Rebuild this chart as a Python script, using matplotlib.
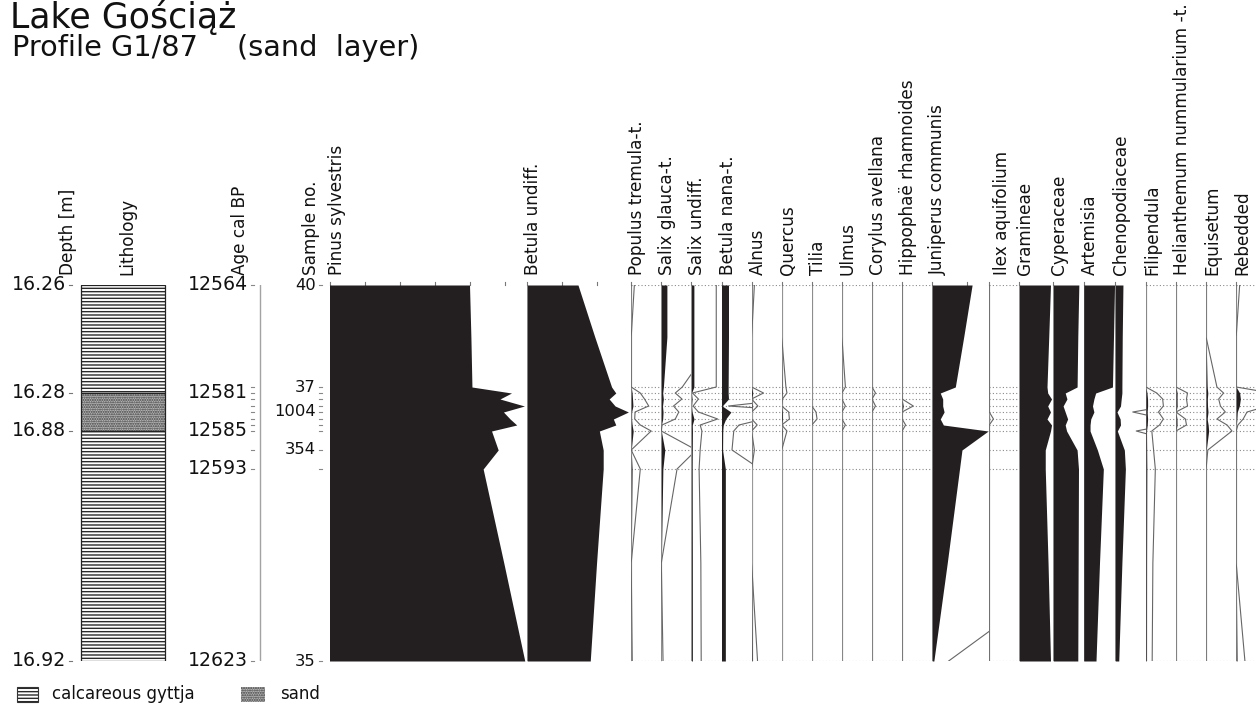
import numpy as np
import matplotlib
matplotlib.use("Agg")
import matplotlib.pyplot as plt
from matplotlib.patches import Rectangle

plt.rcParams['font.family'] = ['DejaVu Sans']
plt.rcParams['hatch.linewidth'] = 1.0

# ---------------------------------------------------------------- data
# stratigraphic position of each level (mm below the top of the section)
section_pos = [0, 52, 102, 108, 114, 121, 127, 134, 140, 146, 165, 184, 278, 376]
# levels that are counted samples (the others are curve vertices only)
counted = [True, False, True, True, True, True, True, True, True, True, True, True, False, True]

depth_labels = ['16.26', '16.28', '16.88', '16.92']
depth_at = [0, 3, 9, 13]
age_labels = ['12564', '12581', '12585', '12593', '12623']
age_at = [0, 3, 9, 11, 13]
sample_labels = ['40', '37', '1004', '354', '35']
sample_at = [0, 2, 6, 10, 13]

lith_types = ['calcareous gyttja', 'sand', 'calcareous gyttja']
lith_bounds = [0, 3, 9, 13]   # level indices bounding each unit

taxa = ['Pinus sylvestris', 'Betula undiff.', 'Populus tremula-t.', 'Salix glauca-t.',
        'Salix undiff.', 'Betula nana-t.', 'Alnus', 'Quercus', 'Tilia', 'Ulmus',
        'Corylus avellana', 'Hippophaë rhamnoides', 'Juniperus communis',
        'Ilex aquifolium', 'Gramineae', 'Cyperaceae', 'Artemisia', 'Chenopodiaceae',
        'Filipendula', 'Helianthemum nummularium -t.', 'Equisetum', 'Rebedded']

pinus = [40.0, 40.4, 40.7, 52.0, 48.7, 55.7, 49.7, 51.6, 53.5, 46.3, 48.2, 43.9, 49.8, 55.8]
betula = [14.5, 19.3, 24.1, 25.3, 23.4, 25.1, 28.9, 24.6, 25.3, 20.6, 21.7, 21.7, 19.8, 18.0]
populus = [0.09, 0.0, 0.0, 0.26, 0.38, 0.50, 0.11, 0.10, 0.26, 0.57, 0.0, 0.26, 0.0, 0.03]
salix_glauca = [1.6, 1.6, 0.6, 0.40, 0.59, 0.35, 0.50, 0.40, 0.02, 0.0, 1.0, 0.45, 0.0, 0.05]
salix_undiff = [0.71, 0.71, 0.71, 0.03, 0.20, 0.05, 0.20, 0.75, 0.25, 0.30, 0.25, 0.22, 0.27, 0.28]
betula_nana = [2.0, 2.0, 1.9, 1.9, 2.0, 0.2, 2.7, 1.2, 0.5, 0.35, 0.3, 1.1, 1.1, 1.1]
alnus = [0.08, 0.0, 0.0, 0.34, 0.0, 0.18, 0.0, 0.0, 0.16, 0.0, 0.08, 0.0, 0.0, 0.17]
quercus = [0.0, 0.0, 0.12, 0.15, 0.02, 0.0, 0.20, 0.22, 0.0, 0.15, 0.0, 0.0, 0.0, 0.0]
tilia = [0, 0, 0, 0, 0, 0, 0.12, 0.15, 0, 0, 0, 0, 0, 0]
ulmus = [0, 0, 0.10, 0, 0, 0.10, 0, 0, 0.10, 0, 0, 0, 0, 0]
corylus = [0, 0, 0, 0.10, 0, 0.10, 0, 0, 0, 0, 0, 0, 0, 0]
hippophae = [0, 0, 0, 0, 0, 0.32, 0, 0, 0.10, 0, 0, 0, 0, 0]
juniperus = [11.4, 9.0, 6.6, 2.3, 3.0, 3.0, 3.4, 2.3, 3.2, 16.0, 8.5, 7.8, 4.3, 0.47]
ilex = [0, 0, 0, 0, 0, 0, 0, 0.12, 0, 0, 0, 0, 0, 0]
gramineae = [8.9, 8.4, 7.9, 8.1, 9.2, 8.1, 8.9, 7.9, 9.2, 8.9, 7.4, 7.4, 8.2, 8.9]
cyperaceae = [7.3, 7.0, 6.8, 3.4, 3.9, 2.8, 3.4, 4.1, 3.4, 3.8, 6.8, 7.2, 7.1, 7.0]
artemisia = [8.8, 8.5, 8.2, 3.4, 2.9, 2.5, 2.9, 2.0, 1.8, 1.8, 3.9, 5.6, 4.5, 3.5]
chenopodiaceae = [2.2, 2.0, 1.9, 1.9, 1.7, 1.5, 0.5, 1.4, 1.5, 0.6, 2.6, 2.9, 1.9, 1.0]
filipendula = [0, 0, 0, 0.31, 0.48, 0.50, 0.36, 0.50, 0.39, 0.17, 0.22, 0.27, 0.20, 0.18]
helianthemum = [0, 0, 0, 0.33, 0.30, 0.33, 0, 0.27, 0.30, 0, 0, 0, 0, 0]
equisetum = [0, 0, 0.31, 0.50, 0.36, 0.41, 0.55, 0.31, 0.60, 0.74, 0.05, 0, 0, 0]
rebedded = [0.10, 0, 0, 1.0, 1.2, 0.9, 0.31, 0.20, 0.05, 0, 0, 0, 0, 0.25]

series = [pinus, betula, populus, salix_glauca, salix_undiff, betula_nana, alnus,
          quercus, tilia, ulmus, corylus, hippophae, juniperus, ilex, gramineae,
          cyperaceae, artemisia, chenopodiaceae, filipendula, helianthemum,
          equisetum, rebedded]

# ---------------------------------------------------------------- layout
W, H = 1256, 706
TOP, BOTTOM = 285, 661
X0 = 329.5            # left edge of the first pollen panel (px)
PX_PER_PCT = 3.5      # horizontal scale shared by all panels
EXAG = 10             # exaggeration of the outline curves
# panel widths in percent units
widths = [56.5, 29.7] + [8.6] * 10 + [16.3, 8.6, 9.7, 8.7, 9.0, 8.75, 8.6, 8.6, 8.6, 8.6]
# taxa drawn with dotted sample lines (rare taxa)
dotted_taxa = set(taxa[2:12] + ['Ilex aquifolium', 'Filipendula',
                                'Helianthemum nummularium -t.', 'Equisetum', 'Rebedded'])
label_nudge = {'Ilex aquifolium': 7, 'Pinus sylvestris': 2}

BLACK = '#231f20'
CURVE = '#666666'
AXLINE = '#a3a3a3'
DOT = '#8a8a8a'
TXT = '#111111'

fig = plt.figure(figsize=(W / 100, H / 100), dpi=100)
fig.patch.set_facecolor('white')


def fx(x):
    return x / W


def fy(y):
    return 1 - y / H


pos = np.array(section_pos, dtype=float)
ymax = pos[-1]
marked = pos[np.array(counted)]

HDR_FS = 12.2

# ---------------------------------------------------------------- pollen panels
left = X0
for name, vals, wpct in zip(taxa, series, widths):
    wpx = wpct * PX_PER_PCT
    ax = fig.add_axes([fx(left), fy(BOTTOM), fx(wpx), (BOTTOM - TOP) / H])
    ax.set_xlim(0, wpct)
    ax.set_ylim(ymax, 0)
    ax.axis('off')
    v = np.array(vals, dtype=float)
    if name in dotted_taxa:
        for p in marked:
            ax.axhline(p, color=DOT, lw=0.8, ls=(0, (1, 2)), zorder=1)
    ax.axvline(0, color=AXLINE, lw=0.9, zorder=2)
    ax.fill_betweenx(pos, 0, v, color=BLACK, lw=0, zorder=3)
    ax.plot(v * EXAG, pos, color=CURVE, lw=0.8, zorder=4)
    # scale ticks along the top edge, every 10 %
    for t in np.arange(0, wpct - 1, 10):
        ax.plot([t, t], [0, -3.5], color='#777777', lw=0.8, clip_on=False)
    fig.text(fx(left + 6 + label_nudge.get(name, 0)), fy(275), name,
             rotation=90, ha='center', va='bottom', fontsize=HDR_FS, color=TXT)
    left += wpx

# ---------------------------------------------------------------- left axes
lax = fig.add_axes([0, fy(BOTTOM), fx(X0), (BOTTOM - TOP) / H])
lax.set_xlim(0, X0)
lax.set_ylim(ymax, 0)
lax.axis('off')

TICK_FS = 13.6
for lab, i in zip(depth_labels, depth_at):
    lax.text(66, pos[i], lab, ha='right', va='center', fontsize=TICK_FS, color=TXT)
    lax.plot([68.5, 72], [pos[i], pos[i]], color='#777777', lw=0.8, clip_on=False)

for lab, i in zip(age_labels, age_at):
    lax.text(248, pos[i], lab, ha='right', va='center', fontsize=TICK_FS, color=TXT)
for p in marked:
    lax.plot([251, 254], [p, p], color='#888888', lw=0.8, clip_on=False)
lax.plot([260, 260], [0, ymax], color=AXLINE, lw=1.0)

for lab, i in zip(sample_labels, sample_at):
    lax.text(315.5, pos[i], lab, ha='right', va='center', fontsize=11.8, color=TXT)
for p in marked:
    lax.plot([319, 322], [p, p], color='#888888', lw=0.8, clip_on=False)

# lithology column
LX0, LX1 = 81, 164.5
GYTTJA = dict(facecolor='white', edgecolor='#2a2a2a', hatch='-----', lw=0)
SAND = dict(facecolor='#b8b8b8', edgecolor='#3c3c3c', hatch='.......', lw=0)
for kind, a, b in zip(lith_types, lith_bounds[:-1], lith_bounds[1:]):
    y0, y1 = pos[a], pos[b]
    style = SAND if kind == 'sand' else GYTTJA
    lax.add_patch(Rectangle((LX0, y0), LX1 - LX0, y1 - y0, **style))
    lax.add_patch(Rectangle((LX0, y0), LX1 - LX0, y1 - y0, facecolor='none',
                            edgecolor='#222222', lw=0.9))

for txt, xc in [('Depth [m]', 68), ('Lithology', 127), ('Age cal BP', 240), ('Sample no.', 311)]:
    fig.text(fx(xc), fy(275), txt, rotation=90, ha='center', va='bottom',
             fontsize=HDR_FS, color=TXT)

# ---------------------------------------------------------------- titles
fig.text(fx(10), fy(28), 'Lake Gościąż', fontsize=25, va='baseline', ha='left', color=TXT)
fig.text(fx(12), fy(56), 'Profile G1/87', fontsize=20.7, va='baseline', ha='left', color=TXT)
fig.text(fx(237), fy(56), '(sand  layer)', fontsize=20.7, va='baseline', ha='left', color=TXT)

# ---------------------------------------------------------------- legend
fig.patches.append(Rectangle((fx(17), fy(702)), fx(21), 15 / H, transform=fig.transFigure,
                             figure=fig, **GYTTJA))
fig.patches.append(Rectangle((fx(17), fy(702)), fx(21), 15 / H, transform=fig.transFigure,
                             figure=fig, facecolor='none', edgecolor='#333333', lw=0.8))
fig.text(fx(52), fy(694), 'calcareous gyttja', fontsize=12, va='center', ha='left', color=TXT)
fig.patches.append(Rectangle((fx(241), fy(702)), fx(24), 15 / H, transform=fig.transFigure,
                             figure=fig, **SAND))
fig.text(fx(280), fy(694), 'sand', fontsize=12, va='center', ha='left', color=TXT)

fig.savefig('out.png', dpi=100, facecolor='white')
